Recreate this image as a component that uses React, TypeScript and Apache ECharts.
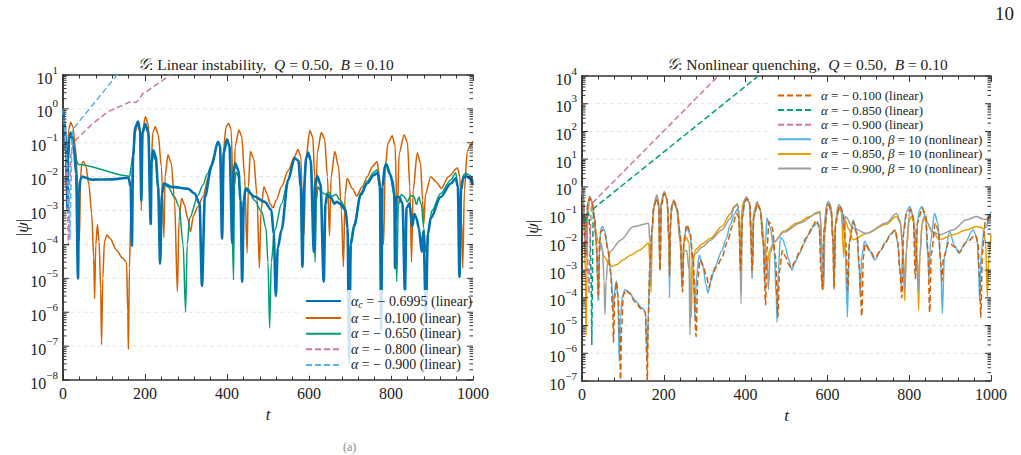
import React, { useEffect, useRef } from 'react';
import * as echarts from 'echarts';

const SERIF = '"Liberation Serif", "DejaVu Serif", serif';
const INK = '#222222';
const FRAME = '#333333';

// ---- |psi|(t) samples, [t, |psi|] ----
const alphaCritLinear = [
  [0, 1.0], [4, 0.35], [8, 0.05], [11, 1e-3], [12.5, 0.03], [15, 0.13], [18.5, 0.19], [22, 0.15], [27, 0.06], [32, 0.012],
  [36.6, 1e-5], [39, 3e-3], [42, 8e-3], [46, 1.0e-2], [70, 8.2e-3], [120, 8.3e-3], [160, 9.3e-3], [165, 5e-3], [168, 9e-5],
  [171, 4e-2], [176, 2.8e-1], [183, 4.2e-1], [188, 2.2e-1], [191, 2e-3], [194, 2e-1], [201, 3.6e-1], [208, 2e-1], [214, 4e-4],
  [216, 2.5e-2], [220, 6e-2], [226, 4e-2], [232, 5e-3], [237, 2.7e-5], [241, 3e-3], [246, 6.3e-3], [264, 5e-3], [305, 4.4e-3],
  [321, 3.2e-3], [333, 1.6e-3], [339, 6e-6], [346, 2.5e-3], [362, 2e-2], [378, 1.07e-1], [383, 8e-2], [388, 1.5e-4], [392, 5e-2],
  [400, 1.26e-1], [406, 8e-2], [413, 1.1e-4], [416, 1.5e-2], [420, 2.5e-2], [428, 1.5e-2], [433, 2e-3], [437, 8e-6], [441, 2e-3],
  [445, 4.3e-3], [467, 2.6e-3], [492, 1.8e-3], [508, 1.05e-3], [514, 2e-4], [519, 3e-6], [524, 8e-5], [533, 2.7e-4], [549, 7.9e-3],
  [565, 3.5e-2], [574, 3e-2], [580, 5e-3], [584, 2.2e-5], [588, 5e-3], [593, 3.5e-2], [598, 5.1e-2], [604, 3e-2], [612, 6e-5],
  [615, 6e-3], [620, 1.05e-2], [628, 6e-3], [636, 8e-6], [640, 1.5e-3], [644, 2.9e-3], [655, 2.3e-3], [661, 1.6e-3], [668, 1.8e-3],
  [675, 1.6e-3], [689, 1.05e-3], [694, 3e-4], [698, 4e-8], [702, 1e-4], [710, 3.4e-4], [726, 2.9e-3], [742, 6.3e-3], [758, 1.12e-2],
  [768, 1.3e-2], [773, 5e-3], [776, 3e-7], [779, 5e-3], [785, 2e-2], [789, 2.2e-2], [797, 1.2e-2], [803, 8e-3], [808, 3e-3],
  [810, 2e-5], [812, 2.5e-3], [820, 2.5e-3], [828, 1.6e-3], [834, 4e-6], [838, 1.2e-3], [845, 1.6e-3], [852, 3.4e-4], [857, 8e-4],
  [862, 6e-4], [868, 3e-4], [875, 6e-5], [879, 2.5e-4], [885, 1e-6], [890, 2e-4], [897, 6e-4], [921, 2.5e-3], [946, 6.3e-3],
  [958, 9e-3], [963, 5e-3], [967, 1.1e-5], [971, 4e-3], [976, 9e-3], [982, 1.05e-2], [993, 8.9e-3], [1000, 5.6e-3],
];

const alpha010Linear = [
  [0, 1.0], [3, 0.4], [6, 0.08], [9, 3e-3], [11, 0.05], [14, 0.25], [19, 0.4], [24, 0.3], [30, 0.08], [35, 0.01], [40, 1.3e-4],
  [43, 0.01], [46, 0.025], [50, 0.028], [56, 0.02], [63, 6e-3], [70, 8e-4], [75, 4e-5], [77, 2.5e-6], [80, 1e-4], [84, 3.8e-4],
  [88, 1.2e-4], [92, 5e-6], [94, 1.1e-7], [97, 1e-5], [101, 1.2e-4], [107, 1.9e-4], [115, 1.5e-4], [130, 7e-5], [145, 4e-5],
  [155, 3e-5], [158, 1e-6], [159.5, 8e-8], [162, 2e-5], [166, 1.5e-3], [171, 3e-2], [176, 2e-1], [183, 3.8e-1], [188, 2e-1],
  [191, 1e-3], [194, 2.2e-1], [201, 5.9e-1], [208, 3.5e-1], [213, 1e-2], [214, 6e-4], [216, 4e-2], [219, 2e-1], [225, 3e-1],
  [232, 1.8e-1], [240, 2e-2], [246, 1.6e-4], [249, 1e-2], [256, 4.4e-2], [264, 2.5e-2], [272, 2e-3], [279, 4e-6], [283, 5e-4],
  [289, 2.3e-3], [296, 1.5e-3], [304, 6e-4], [311, 2.4e-4], [318, 7e-4], [329, 1.3e-3], [341, 2.5e-3], [355, 1e-2], [368, 4e-2],
  [378, 1.1e-1], [383, 8e-2], [388, 1e-3], [392, 8e-2], [398, 3e-1], [404, 3.7e-1], [410, 2.5e-1], [416, 1e-3], [420, 8e-2],
  [429, 2.4e-1], [436, 1.5e-1], [443, 1e-2], [449, 5.6e-5], [452, 5e-3], [457, 5.5e-2], [465, 3.5e-2], [473, 3e-3], [479, 2e-5],
  [483, 1e-3], [490, 5e-3], [498, 3e-3], [505, 1.6e-3], [512, 1.2e-3], [520, 2e-3], [533, 5e-3], [549, 1.5e-2], [565, 4e-2],
  [573, 6.3e-2], [580, 4e-2], [584, 1e-3], [588, 2e-4], [592, 3e-2], [602, 2.3e-1], [609, 1.5e-1], [614, 1e-2], [616, 2e-4],
  [620, 5e-2], [630, 2e-1], [638, 1.3e-1], [645, 1e-2], [650, 1.8e-4], [654, 1e-2], [663, 5.5e-2], [672, 2e-2], [679, 1e-3],
  [684, 2.2e-5], [688, 3e-3], [693, 8.9e-3], [706, 4.5e-3], [716, 2.7e-3], [730, 5e-3], [742, 1e-2], [755, 2e-2], [766, 2.8e-2],
  [772, 1e-2], [777, 1e-3], [782, 1e-4], [786, 2e-2], [793, 1e-1], [803, 1.6e-1], [810, 8e-2], [815, 5e-4], [820, 5e-2],
  [832, 1.7e-1], [840, 1e-1], [846, 5e-3], [850, 3e-5], [854, 4e-3], [864, 5e-2], [872, 2.5e-2], [877, 2e-3], [880, 4e-4],
  [884, 3e-3], [897, 1e-2], [910, 7e-3], [923, 4.5e-3], [940, 1e-2], [962, 1.8e-2], [968, 1e-2], [972, 5e-4], [975, 2e-5],
  [979, 4e-3], [986, 5.5e-2], [993, 8e-2], [1000, 1.1e-1],
];

const alpha065Linear = [
  [0, 1.0], [4, 0.35], [8, 0.06], [11, 2e-3], [13, 0.05], [16, 0.17], [19, 0.21], [23, 0.16], [28, 0.07], [33, 0.03],
  [37, 0.023], [163, 0.0103], [166, 0.02], [171, 5e-2], [176, 2.6e-1], [183, 4e-1], [188, 2.2e-1], [191, 3e-3], [194, 2e-1],
  [201, 3.4e-1], [208, 2e-1], [214, 5e-4], [216, 2e-2], [220, 4.5e-2], [226, 3e-2], [232, 4e-3], [237, 2.8e-5], [241, 3e-3],
  [246, 6e-3], [256, 5e-3], [272, 2.5e-3], [283, 1.3e-3], [293, 1e-4], [299, 1e-6], [303, 1e-4], [309, 6e-4], [329, 2.8e-3],
  [341, 5.6e-3], [352, 1.2e-2], [362, 2.2e-2], [378, 1.07e-1], [383, 8e-2], [388, 2e-4], [392, 5e-2], [400, 1.26e-1], [406, 8e-2],
  [411, 2e-3], [416, 9e-6], [418, 5e-3], [422, 1.4e-2], [428, 1e-2], [433, 2e-3], [437, 2e-5], [441, 2.5e-3], [448, 4.7e-3],
  [451, 4.5e-3], [467, 2e-3], [485, 9e-4], [495, 3e-4], [500, 3e-5], [504, 3.4e-7], [508, 3e-5], [516, 2.5e-4], [533, 1.6e-3],
  [549, 8e-3], [565, 3.5e-2], [574, 3e-2], [580, 5e-3], [584, 3e-5], [588, 5e-3], [593, 3.5e-2], [598, 5.3e-2], [604, 3e-2],
  [610, 3e-3], [615, 3e-5], [618, 2e-3], [622, 5e-3], [630, 3.5e-3], [640, 3e-3], [648, 3.5e-3], [656, 2.6e-3], [666, 3e-3],
  [676, 2e-3], [688, 1.3e-3], [694, 4e-4], [697, 3e-8], [700, 1e-4], [710, 4e-4], [726, 3.3e-3], [742, 7.5e-3], [758, 1.35e-2],
  [766, 1.6e-2], [772, 5e-3], [776, 1e-6], [779, 5e-3], [785, 2.3e-2], [789, 2.5e-2], [797, 1.4e-2], [805, 4e-3], [810, 1e-3],
  [814, 8e-6], [818, 1.5e-3], [825, 3e-3], [832, 2.6e-3], [840, 1.8e-3], [848, 2.8e-3], [856, 2.6e-3], [862, 1.5e-3],
  [868, 2.5e-3], [874, 1.5e-3], [880, 3e-4], [885, 6e-5], [888, 8e-5], [893, 4e-4], [900, 1e-3], [921, 3.2e-3], [946, 8e-3],
  [958, 1.3e-2], [963, 5e-3], [968, 1.8e-5], [972, 5e-3], [976, 1.1e-2], [982, 1.25e-2], [993, 1.1e-2], [1000, 7e-3],
];

const alpha080Linear = [
  [0, 1.0], [4, 0.3], [8, 0.03], [11, 2e-3], [13, 9e-5], [15, 2e-3], [19, 0.04], [24, 0.09], [28, 0.11], [69, 0.34],
  [110, 0.83], [163, 1.6], [170, 1.62], [178, 1.55], [186, 1.9], [195, 2.9], [201, 3.1], [262, 10],
];

const alpha085Linear = [
  [0, 1.0], [4, 0.3], [8, 0.05], [12, 0.1], [16, 0.12], [20, 0.02], [23, 1e-4], [24, 2e-6], [25, 1e-4], [27, 0.05],
  [29, 0.17], [431, 1e4],
];

const alpha090Linear = [
  [0, 1.0], [4, 0.3], [8, 0.05], [12, 0.01], [15, 1e-3], [17, 1.4e-4], [19, 3e-3], [22, 0.1], [24, 0.25], [333, 1e4],
];

const alpha010Nonlinear = [
  [0, 1.0], [3, 0.4], [6, 0.08], [9, 3e-3], [11, 0.05], [14, 0.25], [19, 0.42], [24, 0.3], [30, 0.09], [35, 0.01], [39, 3e-4],
  [41, 8e-5], [43, 8e-3], [46, 0.03], [50, 0.037], [56, 0.025], [63, 6e-3], [70, 1e-3], [74, 2e-4], [76, 3e-5], [79, 1.5e-4],
  [84, 4e-4], [88, 1e-4], [91, 5e-7], [94, 2e-5], [99, 1.2e-4], [105, 2e-4], [115, 1.6e-4], [130, 8e-5], [145, 4.5e-5],
  [155, 3.3e-5], [158, 2e-6], [159.5, 5.6e-7], [162, 2e-5], [166, 1.5e-3], [171, 3e-2], [176, 2e-1], [183, 4e-1], [188, 2e-1],
  [191, 1e-3], [194, 2.2e-1], [201, 6.2e-1], [208, 3.5e-1], [213, 1e-2], [214, 1e-4], [216, 4e-2], [219, 2e-1], [225, 3.2e-1],
  [232, 1.8e-1], [240, 2e-2], [246, 4e-4], [249, 1.2e-2], [256, 3.5e-2], [264, 2e-2], [272, 1e-3], [276, 2e-5], [280, 6e-4],
  [287, 3.5e-3], [296, 1.3e-3], [303, 3e-4], [308, 1.5e-4], [315, 4e-4], [325, 1.3e-3], [342, 5e-3], [352, 1.3e-2],
  [363, 4.5e-2], [372, 1e-1], [380, 1.6e-1], [384, 1e-1], [388, 1e-3], [392, 8e-2], [398, 3e-1], [403, 3.7e-1], [410, 2.5e-1],
  [414, 1e-2], [416, 5e-4], [420, 8e-2], [428, 2.6e-1], [436, 1.5e-1], [443, 1e-2], [447, 3e-4], [449, 1e-2], [452, 7.5e-2],
  [460, 3.5e-2], [470, 5e-3], [475, 1e-4], [477, 1.3e-5], [480, 1e-3], [485, 1.5e-2], [492, 1.2e-2], [497, 7e-3], [505, 2.5e-3],
  [513, 1e-3], [520, 1.8e-3], [530, 3.5e-3], [542, 9e-3], [555, 2e-2], [566, 3.7e-2], [575, 5e-2], [581, 3e-2], [585, 1e-3],
  [588, 2e-4], [592, 4e-2], [598, 2.2e-1], [603, 3e-1], [609, 2e-1], [614, 1e-2], [616, 3e-4], [620, 6e-2], [628, 2.3e-1],
  [636, 1.5e-1], [643, 1e-2], [649, 2e-5], [653, 1e-2], [663, 6.3e-2], [672, 2.5e-2], [678, 1e-3], [680, 1.1e-4], [684, 3e-3],
  [691, 1.1e-2], [703, 5e-3], [716, 2.3e-3], [730, 5e-3], [742, 1e-2], [755, 2e-2], [765, 2.8e-2], [772, 1e-2], [778, 1e-3],
  [781, 2.5e-4], [785, 2e-2], [793, 1.2e-1], [801, 1.95e-1], [810, 9e-2], [815, 3e-3], [817, 9e-4], [820, 5e-2], [825, 1.5e-1],
  [831, 1.95e-1], [840, 8e-2], [846, 3e-3], [848, 5e-4], [852, 1e-2], [862, 1.1e-1], [870, 5e-2], [877, 2e-3], [881, 2.8e-5],
  [886, 3e-3], [899, 2.5e-2], [910, 8e-3], [922, 4e-3], [935, 9e-3], [956, 2.8e-2], [966, 1.5e-2], [970, 1e-3], [972, 8e-5],
  [976, 4e-3], [983, 3e-2], [989, 3.7e-2], [995, 8e-2], [1000, 1.3e-1],
];

const alpha085Nonlinear = [
  [0, 1.0], [3, 0.3], [6, 0.02], [8, 1e-3], [10, 4.5e-6], [12, 1e-3], [14, 0.1], [19, 0.45], [24, 0.3], [30, 0.08], [35, 0.02],
  [40, 1e-2], [45, 7.9e-3], [55, 3e-3], [65, 1.7e-3], [73, 1.35e-3], [86, 1.6e-3], [100, 2.3e-3], [120, 3.5e-3], [140, 5.2e-3],
  [163, 9.3e-3], [166, 2e-3], [169, 1.6e-4], [171, 2e-2], [176, 2.3e-1], [183, 5e-1], [188, 2.5e-1], [190, 1e-3], [192, 2.2e-1],
  [201, 6.7e-1], [208, 3.5e-1], [213, 1e-2], [214, 1e-3], [217, 1e-1], [224, 3.4e-1], [232, 1.5e-1], [240, 1e-2], [245, 1e-3],
  [249, 1e-2], [255, 1.5e-2], [262, 1e-2], [265, 1e-4], [267, 1.9e-5], [270, 1e-3], [277, 5.4e-3], [295, 9e-3], [314, 1.4e-2],
  [342, 3.7e-2], [363, 1.1e-1], [372, 2e-1], [380, 2.4e-1], [384, 1.2e-1], [387, 1e-3], [390, 1.2e-1], [395, 3e-1], [402, 3.9e-1],
  [410, 2.5e-1], [414, 1e-2], [416, 1.1e-3], [419, 1e-1], [428, 2.6e-1], [436, 1.5e-1], [446, 1e-2], [452, 1.1e-3], [458, 5e-3],
  [469, 1e-2], [493, 2.5e-2], [526, 5e-2], [558, 8.5e-2], [574, 1.2e-1], [582, 1.3e-1], [586, 1e-2], [589, 3e-4], [592, 2e-2],
  [598, 2e-1], [603, 2.6e-1], [609, 1.8e-1], [614, 1e-2], [616, 3e-4], [619, 4e-2], [627, 1.9e-1], [634, 1.3e-1], [640, 3e-3],
  [644, 6e-2], [652, 3e-2], [663, 1.25e-2], [695, 2.1e-2], [744, 4.5e-2], [769, 8.5e-2], [778, 5e-2], [785, 5e-3], [789, 8e-5],
  [793, 5e-3], [800, 6e-2], [805, 8.5e-2], [812, 5e-2], [820, 3e-3], [823, 3.5e-5], [826, 3e-3], [832, 5e-2], [838, 7.4e-2],
  [845, 5e-2], [855, 2.5e-2], [875, 1.25e-2], [907, 1.9e-2], [940, 2.8e-2], [964, 3.7e-2], [980, 3.3e-2], [987, 1e-2],
  [991, 1.1e-4], [995, 3e-3], [1000, 1.9e-2],
];

const alpha090Nonlinear = [
  [0, 1.0], [3, 0.3], [6, 0.02], [9, 3e-3], [12, 0.05], [15, 0.3], [19, 0.45], [24, 0.3], [30, 0.08], [34, 0.02], [37, 2e-3],
  [39, 8e-5], [42, 4e-3], [46, 1e-2], [50, 6e-3], [54, 4e-4], [56, 2.5e-5], [59, 4e-4], [63, 2e-3], [69, 4.7e-3], [94, 1.2e-2],
  [126, 3.7e-2], [163, 4.9e-2], [166, 1e-2], [169, 3e-4], [171, 2e-2], [176, 2.3e-1], [183, 5e-1], [188, 2.5e-1], [190, 1e-3],
  [192, 2.2e-1], [201, 6.7e-1], [208, 3.5e-1], [213, 1e-2], [215, 1e-3], [217, 1e-1], [224, 3.4e-1], [232, 1.5e-1], [240, 1e-2],
  [245, 2e-4], [249, 5e-3], [256, 5e-3], [262, 1e-3], [264, 4.6e-6], [267, 1e-3], [273, 3.5e-3], [295, 7e-3], [314, 1.2e-2],
  [342, 2.8e-2], [363, 7.4e-2], [372, 1.8e-1], [380, 2.4e-1], [384, 1e-1], [389, 6e-5], [392, 1e-1], [397, 3.5e-1], [402, 4.4e-1],
  [410, 2.7e-1], [414, 1e-2], [416, 5e-4], [419, 1e-1], [428, 2.9e-1], [436, 1.5e-1], [443, 1e-2], [449, 1e-3], [452, 3e-3],
  [456, 2e-4], [460, 4e-3], [469, 1e-2], [493, 2.3e-2], [534, 5e-2], [574, 1.1e-1], [582, 1.2e-1], [586, 1e-2], [591, 2e-4],
  [594, 2e-2], [599, 2.6e-1], [604, 2.3e-1], [610, 1e-1], [614, 1e-2], [617, 6e-4], [620, 5e-2], [626, 2e-1], [634, 1.3e-1],
  [640, 3e-2], [644, 8.5e-2], [664, 3.2e-2], [695, 2.1e-2], [744, 5e-2], [769, 1.1e-1], [778, 6e-2], [785, 5e-3], [789, 2e-4],
  [793, 5e-3], [800, 1e-1], [803, 1.6e-1], [810, 8e-2], [818, 3e-3], [822, 1.6e-4], [826, 3e-3], [832, 6e-2], [838, 9e-2],
  [845, 5e-2], [855, 2.5e-2], [875, 1.9e-2], [907, 2.8e-2], [940, 6.5e-2], [964, 8.5e-2], [980, 7e-2], [990, 6.5e-2], [1000, 9e-2],
];

// ---- palette ----
const C = {
  blue: '#0072B2', vermillion: '#D55E00', green: '#009E73', pink: '#CC79A7',
  sky: '#56B4E9', amber: '#E69F00', grey: '#9E9E9E',
};

const legendText: Record<string, string> = {
  critL: '{it|α}{sub|c} = − 0.6995 (linear)',
  a010L: '{it|α} = − 0.100 (linear)',
  a065L: '{it|α} = − 0.650 (linear)',
  a080L: '{it|α} = − 0.800 (linear)',
  a090L: '{it|α} = − 0.900 (linear)',
  r010L: '{it|α} = − 0.100 (linear)',
  r085L: '{it|α} = − 0.850 (linear)',
  r090L: '{it|α} = − 0.900 (linear)',
  r010N: '{it|α} = − 0.100, {it|β} = 10 (nonlinear)',
  r085N: '{it|α} = − 0.850, {it|β} = 10 (nonlinear)',
  r090N: '{it|α} = − 0.900, {it|β} = 10 (nonlinear)',
};

function powLabel(v: number) {
  const e = Math.round(Math.log10(v));
  return `{b|10}{sup|${e < 0 ? '−' + -e : e}}`;
}

const powRich = {
  b: { fontFamily: SERIF, fontSize: 16, fill: INK, color: INK, verticalAlign: 'bottom', lineHeight: 22 },
  sup: { fontFamily: SERIF, fontSize: 11, fill: INK, color: INK, verticalAlign: 'top', lineHeight: 22 },
};

function logValues(lo: number, hi: number, mults: number[]) {
  const out: number[][] = [];
  for (let k = lo; k <= hi; k++) for (const m of mults) out.push([0, m * Math.pow(10, k)]);
  return out;
}

// faint dashed rules at each decade, behind the curves
function decadeRules(xi: number, yi: number, lo: number, hi: number) {
  return {
    type: 'custom', xAxisIndex: xi, yAxisIndex: yi, silent: true, clip: false, z: 1,
    data: logValues(lo + 1, hi - 1, [1]),
    renderItem: (params: any, api: any) => {
      const y = api.coord([0, api.value(1)])[1];
      const cs = params.coordSys;
      return {
        type: 'line', shape: { x1: cs.x, y1: y, x2: cs.x + cs.width, y2: y },
        style: { stroke: '#e3e3e3', lineWidth: 1, lineDash: [4, 3] },
      };
    },
  };
}

// decade ticks with 10^n labels, mirrored on both frame sides
function decadeTicks(xi: number, yi: number, lo: number, hi: number) {
  return {
    type: 'custom', xAxisIndex: xi, yAxisIndex: yi, silent: true, clip: false, z: 6,
    data: logValues(lo, hi, [1]),
    renderItem: (params: any, api: any) => {
      const v = api.value(1);
      const y = api.coord([0, v])[1];
      const cs = params.coordSys;
      const st = { stroke: FRAME, lineWidth: 1 };
      return {
        type: 'group',
        children: [
          { type: 'line', shape: { x1: cs.x, y1: y, x2: cs.x + 6, y2: y }, style: st },
          { type: 'line', shape: { x1: cs.x + cs.width, y1: y, x2: cs.x + cs.width - 6, y2: y }, style: st },
          {
            type: 'text', x: cs.x - 5, y,
            style: { text: powLabel(v), rich: powRich, align: 'right', verticalAlign: 'middle' },
          },
        ],
      };
    },
  };
}

// 2..9 x 10^n minor ticks
function logMinorTicks(xi: number, yi: number, lo: number, hi: number) {
  return {
    type: 'custom', xAxisIndex: xi, yAxisIndex: yi, silent: true, clip: false, z: 6,
    data: logValues(lo, hi - 1, [2, 3, 4, 5, 6, 7, 8, 9]),
    renderItem: (params: any, api: any) => {
      const y = api.coord([0, api.value(1)])[1];
      const cs = params.coordSys;
      const st = { stroke: FRAME, lineWidth: 1 };
      return {
        type: 'group',
        children: [
          { type: 'line', shape: { x1: cs.x, y1: y, x2: cs.x + 3.5, y2: y }, style: st },
          { type: 'line', shape: { x1: cs.x + cs.width, y1: y, x2: cs.x + cs.width - 3.5, y2: y }, style: st },
        ],
      };
    },
  };
}

function xAxes(gridIndex: number) {
  const common = {
    type: 'value', gridIndex, min: 0, max: 1000, interval: 200,
    axisLine: { show: true, lineStyle: { color: FRAME, width: 1.5 } },
    axisTick: { show: true, inside: true, length: 6, lineStyle: { color: FRAME, width: 1 } },
    minorTick: { show: true, splitNumber: 5, length: 3.5, lineStyle: { color: FRAME, width: 1 } },
    splitLine: { show: false },
  };
  return [
    {
      ...common, position: 'bottom',
      axisLabel: { fontFamily: SERIF, fontSize: 16, color: INK, margin: 5, formatter: (v: number) => String(v) },
      name: 't', nameLocation: 'middle', nameGap: 24,
      nameTextStyle: { fontFamily: SERIF, fontSize: 17, fontStyle: 'italic', color: INK },
    },
    { ...common, position: 'top', axisLabel: { show: false } },
  ];
}

function yAxes(gridIndex: number, min: number, max: number, nameGap: number) {
  const common = {
    type: 'log', logBase: 10, gridIndex, min, max,
    axisLine: { show: true, lineStyle: { color: FRAME, width: 1.5 } },
    axisTick: { show: false },
    axisLabel: { show: false },
    minorTick: { show: false },
    splitLine: { show: false },
  };
  return [
    {
      ...common, position: 'left',
      name: '|{it|ψ}|', nameLocation: 'middle', nameGap, nameRotate: 90,
      nameTextStyle: {
        fontFamily: SERIF, fontSize: 17, color: INK,
        rich: { it: { fontFamily: SERIF, fontSize: 17, fontStyle: 'italic', color: INK } },
      },
    },
    { ...common, position: 'right' },
  ];
}

// oscillating curves are drawn with light rounding; exponential-growth lines stay straight
function line(
  name: string, data: number[][], color: string, xi: number, yi: number,
  width = 1.5, dashed = false, rounded = true,
) {
  return {
    type: 'line', name, data, xAxisIndex: xi, yAxisIndex: yi,
    showSymbol: false, symbol: 'none', clip: true,
    smooth: rounded ? 0.3 : false, smoothMonotone: 'x',
    lineStyle: { color, width, type: dashed ? [6, 3] : 'solid' },
    itemStyle: { color },
    emphasis: { disabled: true },
  };
}

function legendBlock(data: string[], left: number, top: number, itemWidth: number, fontSize: number) {
  return {
    data, left, top, orient: 'vertical', itemWidth, itemHeight: 14, itemGap: 1.6,
    padding: [4, 8, 4, 6], backgroundColor: 'rgba(255,255,255,0.82)', selectedMode: false,
    itemStyle: { opacity: 0 },
    formatter: (n: string) => legendText[n],
    textStyle: {
      fontFamily: SERIF, fontSize, color: INK, padding: [0, 0, 0, 5],
      rich: {
        it: { fontFamily: SERIF, fontSize, fontStyle: 'italic', color: INK },
        sub: { fontFamily: SERIF, fontSize: 10, fontStyle: 'italic', color: INK, padding: [7, 0, 0, 0] },
      },
    },
  };
}

const titleRich = {
  cal: { fontFamily: '"DejaVu Sans", "Liberation Serif", serif', fontSize: 15.5, fontStyle: 'italic', fill: INK },
  it: { fontFamily: SERIF, fontSize: 15.5, fontStyle: 'italic', fill: INK },
  r: { fontFamily: SERIF, fontSize: 15.5, fill: INK },
};

export default function App() {
  const ref = useRef<HTMLDivElement>(null);

  useEffect(() => {
    if (!ref.current) return;
    const chart = echarts.init(ref.current, undefined, { renderer: 'svg' });
    chart.setOption({
      animation: false,
      backgroundColor: '#ffffff',
      grid: [
        { left: 63, top: 75, width: 410, height: 305 },
        { left: 582, top: 76, width: 409, height: 305 },
      ],
      xAxis: [...xAxes(0), ...xAxes(1)],
      yAxis: [...yAxes(0, 1e-8, 1e1, 32), ...yAxes(1, 1e-7, 1e4, 41)],
      legend: [
        legendBlock(['critL', 'a010L', 'a065L', 'a080L', 'a090L'], 299, 290, 35, 14),
        legendBlock(['r010L', 'r085L', 'r090L', 'r010N', 'r085N', 'r090N'], 771, 85, 33, 13),
      ],
      graphic: [
        {
          type: 'text', left: 138, top: 56,
          style: { text: '{cal|𝒢}{r|: Linear instability,  }{it|Q}{r| = 0.50,  }{it|B}{r| = 0.10}', rich: titleRich },
        },
        {
          type: 'text', left: 667, top: 56,
          style: { text: '{cal|𝒢}{r|: Nonlinear quenching,  }{it|Q}{r| = 0.50,  }{it|B}{r| = 0.10}', rich: titleRich },
        },
        {
          type: 'text', right: 7, top: 4,
          style: { text: '10', fontFamily: SERIF, fontSize: 19, fill: INK },
        },
        {
          type: 'text', left: 343, top: 441,
          style: { text: '(a)', fontFamily: SERIF, fontSize: 12, fill: '#888' },
        },
      ],
      series: [
        decadeRules(0, 0, -8, 1),
        line('a010L', alpha010Linear, C.vermillion, 0, 0),
        line('a065L', alpha065Linear, C.green, 0, 0),
        line('critL', alphaCritLinear, C.blue, 0, 0, 2.6),
        line('a080L', alpha080Linear, C.pink, 0, 0, 1.5, true, false),
        line('a090L', alpha090Linear, C.sky, 0, 0, 1.5, true, false),
        decadeTicks(0, 0, -8, 1),
        logMinorTicks(0, 0, -8, 1),

        decadeRules(2, 2, -7, 4),
        line('r010N', alpha010Nonlinear, C.sky, 2, 2),
        line('r085N', alpha085Nonlinear, C.amber, 2, 2),
        line('r090N', alpha090Nonlinear, C.grey, 2, 2),
        line('r010L', alpha010Linear, C.vermillion, 2, 2, 1.5, true),
        line('r085L', alpha085Linear, C.green, 2, 2, 1.5, true, false),
        line('r090L', alpha090Linear, C.pink, 2, 2, 1.5, true, false),
        decadeTicks(2, 2, -7, 4),
        logMinorTicks(2, 2, -7, 4),
      ],
    });
    return () => chart.dispose();
  }, []);

  return (
    <div
      ref={ref}
      style={{ position: 'absolute', left: 0, top: 0, width: 1021, height: 455, background: '#fff' }}
    />
  );
}
